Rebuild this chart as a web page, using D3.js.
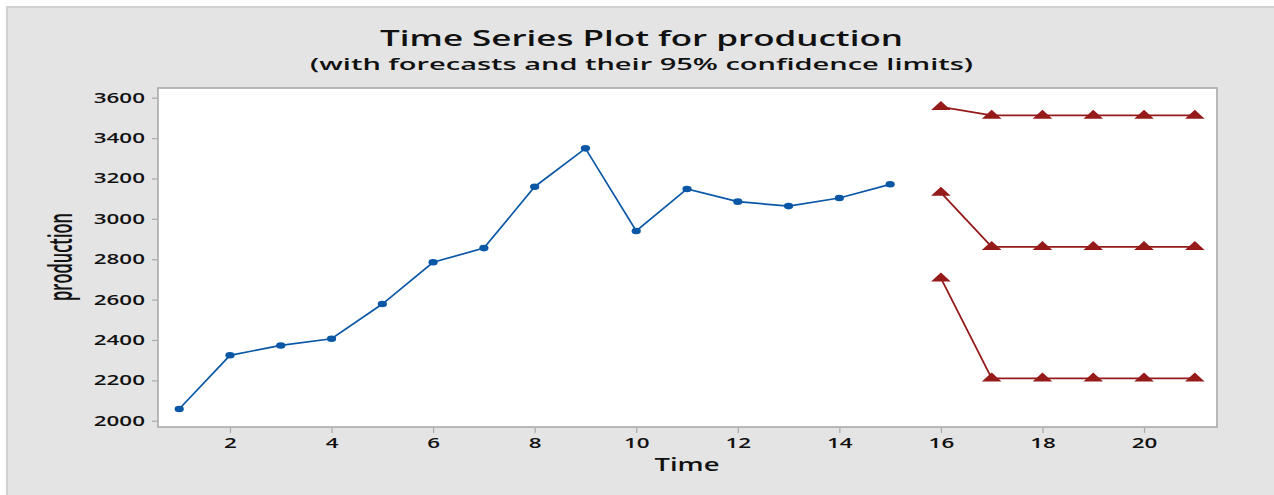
<!DOCTYPE html>
<html>
<head>
<meta charset="utf-8">
<script src="https://cdn.jsdelivr.net/npm/d3@7"></script>
<style>
  html, body { margin: 0; padding: 0; background: #ffffff; }
  svg { display: block; }
  text { font-family: "Open Sans", "DejaVu Sans", sans-serif; fill: #111; }
</style>
</head>
<body>
<svg id="chart" width="1274" height="495"></svg>
<script>
// Observed series (periods 1-15)
const periods = [1, 2, 3, 4, 5, 6, 7, 8, 9, 10, 11, 12, 13, 14, 15];
const production = [2058, 2324, 2373, 2406, 2578, 2785, 2855, 3159, 3349, 2940, 3148, 3085, 3063, 3103, 3171];

// Forecast horizon (periods 16-21) with 95% limits
const forecastPeriods = [16, 17, 18, 19, 20, 21];
const forecast = [3130, 2861, 2861, 2861, 2861, 2861];
const upperLimit = [3555, 3512, 3512, 3512, 3512, 3512];
const lowerLimit = [2706, 2210, 2210, 2210, 2210, 2210];

// Axis ticks
const xTicks = [2, 4, 6, 8, 10, 12, 14, 16, 18, 20];
const yTicks = [2000, 2200, 2400, 2600, 2800, 3000, 3200, 3400, 3600];

const titleText = "Time Series Plot for production";
const subtitleText = "(with forecasts and their 95% confidence limits)";
const xLabel = "Time";
const yLabel = "production";

const W = 1274, H = 495;
const plot = { left: 158, top: 88, right: 1217, bottom: 427 };
const GLYPH_STRETCH = 1.6;   // wide, stretched lettering

const svg = d3.select("#chart");

// Outer panel
svg.append("rect").attr("x", 6).attr("y", 6).attr("width", W - 6).attr("height", H - 6)
  .attr("fill", "#e4e4e4");
svg.append("path").attr("d", `M7,${H} V7 H${W}`)
  .attr("fill", "none").attr("stroke", "#d0d0d0").attr("stroke-width", 2);

// Scales
const x = d3.scaleLinear().domain([0.5825, 21.437]).range([plot.left, plot.right]);
const y = d3.scaleLinear().domain([1969, 3648]).range([plot.bottom, plot.top]);

// Plot area
svg.append("rect")
  .attr("x", plot.left).attr("y", plot.top)
  .attr("width", plot.right - plot.left).attr("height", plot.bottom - plot.top)
  .attr("fill", "#ffffff").attr("stroke", "#a9a9a9").attr("stroke-width", 1.6);

function stretch(sel, factor) {
  sel.each(function () {
    const n = this.getComputedTextLength();
    d3.select(this).attr("textLength", n * factor).attr("lengthAdjust", "spacingAndGlyphs");
  });
}
function fitTo(sel, width) {
  sel.attr("textLength", width).attr("lengthAdjust", "spacingAndGlyphs");
}

// X axis
const xAxis = svg.append("g")
  .attr("transform", `translate(0,${plot.bottom + 1})`)
  .call(d3.axisBottom(x).tickValues(xTicks).tickSize(5).tickPadding(5).tickFormat(d3.format("d")));
xAxis.select(".domain").remove();
xAxis.selectAll(".tick line").attr("stroke", "#a9a9a9").attr("stroke-width", 1.2);
xAxis.selectAll(".tick text")
  .attr("font-size", 14).attr("font-weight", 600).attr("fill", "#111")
  .attr("font-family", "'Open Sans', sans-serif");
stretch(xAxis.selectAll(".tick text"), GLYPH_STRETCH);

// Y axis
const yAxis = svg.append("g")
  .attr("transform", `translate(${plot.left - 1},0)`)
  .call(d3.axisLeft(y).tickValues(yTicks).tickSize(5).tickPadding(7).tickFormat(d3.format("d")));
yAxis.select(".domain").remove();
yAxis.selectAll(".tick line").attr("stroke", "#a9a9a9").attr("stroke-width", 1.2);
yAxis.selectAll(".tick text")
  .attr("font-size", 14).attr("font-weight", 600).attr("fill", "#111")
  .attr("font-family", "'Open Sans', sans-serif");
stretch(yAxis.selectAll(".tick text"), GLYPH_STRETCH);

// Observed series
const obs = periods.map((p, i) => ({ t: p, v: production[i] }));
const line = d3.line().x(d => x(d.t)).y(d => y(d.v));
const blue = "#0a57a6";
svg.append("path").datum(obs).attr("d", line)
  .attr("fill", "none").attr("stroke", blue).attr("stroke-width", 1.7);
svg.append("g").selectAll("ellipse").data(obs).join("ellipse")
  .attr("cx", d => x(d.t)).attr("cy", d => y(d.v))
  .attr("rx", 4.6).attr("ry", 3.3).attr("fill", blue);

// Forecast and limits
const red = "#951a1a";
const tri = (cx, cy) => `M${cx - 9.8},${cy + 3.2} L${cx},${cy - 5.8} L${cx + 9.8},${cy + 3.2} Z`;
[upperLimit, forecast, lowerLimit].forEach(series => {
  const pts = forecastPeriods.map((p, i) => ({ t: p, v: series[i] }));
  svg.append("path").datum(pts).attr("d", line)
    .attr("fill", "none").attr("stroke", red).attr("stroke-width", 1.8);
  svg.append("g").selectAll("path").data(pts).join("path")
    .attr("d", d => tri(x(d.t), y(d.v))).attr("fill", red);
});

// Titles
const title = svg.append("text").attr("x", 641.5).attr("y", 46)
  .attr("text-anchor", "middle").attr("font-size", 21).attr("font-weight", 600)
  .text(titleText);
fitTo(title, 523);
const subtitle = svg.append("text").attr("x", 641.5).attr("y", 70)
  .attr("text-anchor", "middle").attr("font-size", 16).attr("font-weight", 600)
  .text(subtitleText);
fitTo(subtitle, 663);

// Axis labels
const xl = svg.append("text").attr("x", 687).attr("y", 471)
  .attr("text-anchor", "middle").attr("font-size", 17.5).attr("font-weight", 600)
  .text(xLabel);
fitTo(xl, 65);

const yl = svg.append("text")
  .attr("transform", `translate(72,257) scale(1.65,1) rotate(-90)`)
  .attr("text-anchor", "middle").attr("font-size", 20).attr("font-weight", 600)
  .attr("fill", "#000")
  .text(yLabel);
fitTo(yl, 88);
</script>
</body>
</html>
